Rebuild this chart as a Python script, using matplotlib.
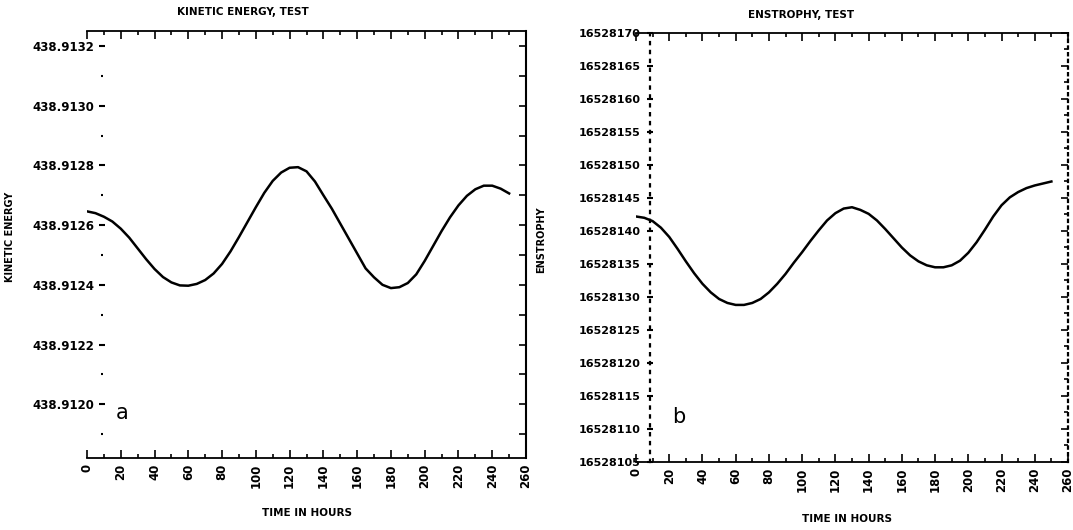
"""
Kinetic energy and enstrophy time series (two panels)
"""

import matplotlib
matplotlib.use('Agg')
import matplotlib.pyplot as plt
from matplotlib.ticker import FixedLocator, MultipleLocator, AutoMinorLocator, FormatStrFormatter

# Data (every 5 hours)
ke_hours = list(range(0, 251, 5))
ke_values = [438.912646, 438.912640, 438.912628, 438.912612, 438.912588, 438.912558,
             438.912522, 438.912486, 438.912453, 438.912426, 438.912408, 438.912398,
             438.912397, 438.912403, 438.912416, 438.912438, 438.912470, 438.912512,
             438.912560, 438.912610, 438.912660, 438.912708, 438.912748, 438.912776,
             438.912792, 438.912794, 438.912780, 438.912746, 438.912700, 438.912655,
             438.912605, 438.912555, 438.912505, 438.912455, 438.912425, 438.912400,
             438.912389, 438.912392, 438.912406, 438.912435, 438.912480, 438.912530,
             438.912580, 438.912626, 438.912666, 438.912698, 438.912720, 438.912732,
             438.912732, 438.912722, 438.912706]

ens_hours = list(range(0, 251, 5))
ens_values = [16528142.2, 16528142.0, 16528141.5, 16528140.5, 16528139.1, 16528137.3,
              16528135.4, 16528133.6, 16528132.0, 16528130.7, 16528129.7, 16528129.1,
              16528128.8, 16528128.8, 16528129.1, 16528129.7, 16528130.7, 16528132.0,
              16528133.5, 16528135.2, 16528136.8, 16528138.5, 16528140.1, 16528141.6,
              16528142.7, 16528143.4, 16528143.6, 16528143.2, 16528142.6, 16528141.6,
              16528140.3, 16528138.9, 16528137.5, 16528136.3, 16528135.4, 16528134.8,
              16528134.5, 16528134.5, 16528134.8, 16528135.5, 16528136.7, 16528138.3,
              16528140.2, 16528142.2, 16528143.9, 16528145.1, 16528145.9, 16528146.5,
              16528146.9, 16528147.2, 16528147.5]

hour_ticks = [0, 20, 40, 60, 80, 100, 120, 140, 160, 180, 200, 220, 240, 260]
ke_ticks = [438.9120, 438.9122, 438.9124, 438.9126, 438.9128, 438.9130, 438.9132]
ens_ticks = [16528105, 16528110, 16528115, 16528120, 16528125, 16528130, 16528135,
             16528140, 16528145, 16528150, 16528155, 16528160, 16528165, 16528170]

W, H = 1073, 530


def setup_x(ax, size):
    ax.set_xlim(0, 260)
    ax.xaxis.set_major_locator(FixedLocator(hour_ticks))
    ax.xaxis.set_minor_locator(MultipleLocator(10))
    ax.set_xticklabels([str(h) for h in hour_ticks], rotation=90,
                       fontsize=size, fontweight='bold')
    ax.tick_params(axis='x', which='both', direction='in', top=True, bottom=True,
                   width=1.2, pad=4)
    ax.tick_params(axis='x', which='major', length=6)
    ax.tick_params(axis='x', which='minor', length=3)
    for side in ['top', 'bottom']:
        ax.spines[side].set_linewidth(1.3)


fig = plt.figure(figsize=(W / 100, H / 100), dpi=100)

# ---- panel a: kinetic energy
ax1 = fig.add_axes([87 / W, 1 - 458 / H, 439 / W, 427 / H])
ax1.plot(ke_hours, ke_values, color='black', lw=1.8)
setup_x(ax1, 8.5)
ax1.set_ylim(438.91182, 438.91325)
ax1.yaxis.set_major_locator(FixedLocator(ke_ticks))
ax1.yaxis.set_minor_locator(AutoMinorLocator(2))
ax1.yaxis.set_major_formatter(FormatStrFormatter('%.4f'))
ax1.spines['left'].set_position(('axes', 0.035))
ax1.spines['left'].set_visible(False)
ax1.spines['right'].set_visible(False)
ax1.tick_params(axis='y', which='both', right=False, direction='inout', width=1.5, pad=3)
ax1.tick_params(axis='y', which='major', length=5)
ax1.tick_params(axis='y', which='minor', length=1.5)
for lab in ax1.get_yticklabels():
    lab.set_fontsize(8.5)
    lab.set_fontweight('bold')

sec1 = ax1.secondary_yaxis('right')
sec1.yaxis.set_major_locator(MultipleLocator(0.0001))
sec1.tick_params(axis='y', direction='in', length=5, width=1.2, labelright=False)
sec1.spines['right'].set_linewidth(1.5)

ax1.text(0.08, 0.105, 'a', transform=ax1.transAxes, fontsize=15,
         family=['Liberation Sans Narrow', 'DejaVu Sans'], ha='center', va='center')

# ---- panel b: enstrophy
ax2 = fig.add_axes([636 / W, 1 - 462 / H, 432 / W, 429 / H])
ax2.plot(ens_hours, ens_values, color='black', lw=1.8)
setup_x(ax2, 8.5)
ax2.set_ylim(16528105, 16528170)
ax2.yaxis.set_major_locator(FixedLocator(ens_ticks))
ax2.yaxis.set_major_formatter(FormatStrFormatter('%d'))
ax2.spines['left'].set_position(('axes', 0.032))
ax2.spines['left'].set_linestyle((0, (1, 3)))
ax2.spines['left'].set_linewidth(1.6)
ax2.spines['right'].set_visible(False)
ax2.tick_params(axis='y', which='major', right=False, direction='inout', length=5,
                width=1.5, pad=4)
for lab in ax2.get_yticklabels():
    lab.set_fontsize(8)
    lab.set_fontweight('bold')

sec2 = ax2.secondary_yaxis('right')
sec2.yaxis.set_major_locator(MultipleLocator(5))
sec2.yaxis.set_minor_locator(MultipleLocator(2.5))
sec2.tick_params(axis='y', which='major', direction='in', length=5, width=1.2,
                 labelright=False)
sec2.tick_params(axis='y', which='minor', direction='in', length=3, width=1.2)
sec2.spines['right'].set_linestyle((0, (1, 2)))
sec2.spines['right'].set_linewidth(1.6)

ax2.text(0.1, 0.105, 'b', transform=ax2.transAxes, fontsize=15,
         family=['Liberation Sans Narrow', 'DejaVu Sans'], ha='center', va='center')

# ---- titles and axis labels
fig.text(243 / W, 1 - 12 / H, 'KINETIC ENERGY, TEST', ha='center', va='center',
         fontsize=7.5, fontweight='bold')
fig.text(801 / W, 1 - 15 / H, 'ENSTROPHY, TEST', ha='center', va='center',
         fontsize=7.5, fontweight='bold')
fig.text(307 / W, 1 - 513 / H, 'TIME IN HOURS', ha='center', va='center',
         fontsize=7.5, fontweight='bold')
fig.text(847 / W, 1 - 519 / H, 'TIME IN HOURS', ha='center', va='center',
         fontsize=7.5, fontweight='bold')
fig.text(10 / W, 1 - 237 / H, 'KINETIC ENERGY', rotation=90, ha='center', va='center',
         fontsize=7, fontweight='bold')
fig.text(541 / W, 1 - 240 / H, 'ENSTROPHY', rotation=90, ha='center', va='center',
         fontsize=7, fontweight='bold')

fig.savefig('out.png', dpi=100)
plt.close(fig)
